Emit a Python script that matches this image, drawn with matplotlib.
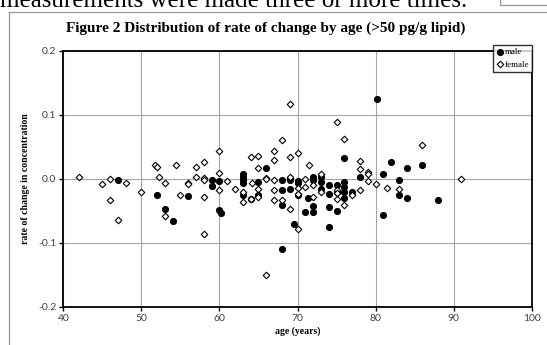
import matplotlib
matplotlib.use("Agg")
import matplotlib.pyplot as plt
from matplotlib.lines import Line2D
from matplotlib.patches import Rectangle

# male: age, rate of change
male_age = [47, 52, 53, 54, 56, 59, 59, 60, 60, 60.2,
            63, 63, 63, 63, 63, 64, 65, 65, 66, 68,
            68, 68, 68, 69, 69, 69, 69.6, 70, 70, 70,
            71, 71.3, 72, 72, 72, 72, 73, 73, 73, 74,
            74, 74, 74, 75, 75, 75, 76, 76, 76, 76,
            76, 77, 78, 80.2, 81, 81, 82, 83, 83, 84,
            84, 86, 88]
male_rate = [-0.002, -0.025, -0.048, -0.066, -0.027, -0.002, -0.011, -0.004, -0.049, -0.054,
             0.008, 0.003, -0.002, -0.006, -0.026, -0.031, -0.005, -0.025, 0.016, -0.002,
             -0.018, -0.041, -0.110, 0.000, -0.002, -0.016, -0.070, -0.004, -0.007, -0.026,
             -0.052, -0.030, 0.003, -0.002, -0.043, -0.052, 0.002, -0.005, -0.016, -0.010,
             -0.024, -0.044, -0.076, -0.010, -0.021, -0.051, 0.032, -0.005, -0.013, -0.021,
             -0.030, -0.020, 0.002, 0.125, 0.008, -0.056, 0.026, -0.002, -0.025, 0.016,
             -0.030, 0.022, -0.034]

# female: age, rate of change
female_age = [42, 45, 46, 46, 47, 48, 50, 51.8, 52, 52.2,
              53, 53, 54.4, 55, 56, 56, 57, 57, 58, 58,
              58, 58, 58, 60, 60, 60, 61, 62, 63, 63,
              64, 64, 64.2, 65, 65, 65, 65, 66, 66, 66,
              67, 67, 67, 67, 67, 68, 68, 69, 69, 69,
              69, 70, 70, 70, 70, 71, 71, 71.5, 72, 72,
              73, 73, 75, 75, 75, 75, 76, 76, 77, 78,
              78, 78, 79, 79, 79, 80, 81.5, 83, 86, 91]
female_rate = [0.003, -0.009, 0.000, -0.034, -0.064, -0.007, -0.020, 0.021, 0.019, 0.002,
               -0.007, -0.058, 0.022, -0.026, -0.006, -0.008, 0.018, 0.002, 0.026, 0.001,
               -0.002, -0.028, -0.087, 0.044, 0.009, -0.017, -0.004, -0.016, -0.020, -0.036,
               0.034, -0.031, -0.007, 0.036, 0.016, -0.016, -0.028, 0.001, 0.000, -0.150,
               0.043, 0.030, -0.002, -0.018, -0.034, 0.060, -0.034, 0.117, 0.034, 0.003,
               -0.048, 0.040, -0.015, -0.024, -0.078, 0.000, -0.013, 0.021, -0.010, -0.028,
               0.007, -0.021, 0.088, -0.018, -0.022, -0.031, 0.062, -0.041, -0.025, 0.027,
               0.015, -0.018, 0.011, 0.007, -0.004, -0.008, -0.014, -0.016, 0.052, -0.001]

x_ticks = [40, 50, 60, 70, 80, 90, 100]
y_ticks = [-0.2, -0.1, 0.0, 0.1, 0.2]
y_ticklabels = ['-0.2', '-0.1', '0.0', '0.1', '0.2']

W, H = 547, 345
fig = plt.figure(figsize=(W / 100, H / 100), dpi=100)
fig.patch.set_facecolor('white')

# page text cut off at the top
fig.text(0, 1 - 7 / H, 'measurements were made three or more times.',
         family='Liberation Serif', fontsize=18, va='baseline', ha='left')
# chart frame (partly outside the picture)
fig.add_artist(Line2D([8.5 / W, 8.5 / W], [0, 1 - 12 / H], color='#999999', lw=0.9))
fig.add_artist(Line2D([8.5 / W, 1], [1 - 12 / H, 1 - 12 / H], color='#999999', lw=0.9))
fig.add_artist(Rectangle((500 / W, 1 - 4.5 / H), 60 / W, 10 / H, fill=False,
                         edgecolor='#999999', lw=0.9))

ax = fig.add_axes([63.3 / W, 1 - 306.7 / H, (531.7 - 63.3) / W, (306.7 - 50.7) / H])
ax.scatter(male_age, male_rate, marker='o', s=17, color='black', label='male', zorder=3)
ax.scatter(female_age, female_rate, marker='D', s=11, facecolor='white',
           edgecolor='black', linewidths=0.8, label='female', zorder=3)

ax.set_xlim(40, 100)
ax.set_ylim(-0.2, 0.2)
ax.set_xticks(x_ticks)
ax.set_yticks(y_ticks)
ax.set_yticklabels(y_ticklabels)
ax.grid(True, color='#a6a6a6', lw=0.8)
ax.set_axisbelow(True)
for s in ax.spines.values():
    s.set_color('black')
    s.set_linewidth(1.3)
ax.tick_params(length=3, width=1, color='black', labelsize=7.5, labelcolor='#404040', pad=2)
for lab in ax.get_xticklabels() + ax.get_yticklabels():
    lab.set_family('Lato')

ax.set_xlabel('age (years)', family='Liberation Serif', fontweight='bold', fontsize=7, labelpad=3)
ax.set_ylabel('rate of change in concentration', family='Liberation Serif',
              fontweight='bold', fontsize=7, labelpad=6)
fig.text(266 / W, 1 - 28 / H, 'Figure 2 Distribution of rate of change by age (>50 pg/g lipid)',
         family='Liberation Serif', fontweight='bold', fontsize=11, ha='center', va='center')

leg = ax.legend(loc='upper right', bbox_to_anchor=(532 / W, 1 - 45 / H),
                bbox_transform=fig.transFigure, frameon=True, fancybox=False,
                prop={'family': 'Liberation Serif', 'size': 6.5},
                handletextpad=0.0, handlelength=1.0, borderpad=0.3,
                labelspacing=0.5, borderaxespad=0)
leg.get_frame().set_edgecolor('black')
leg.get_frame().set_linewidth(1.0)
leg.set_zorder(5)

fig.savefig('out.png', dpi=100)
